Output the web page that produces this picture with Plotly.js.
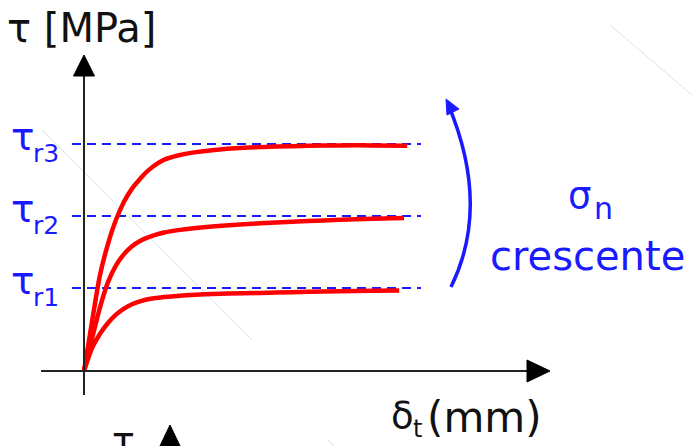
<!DOCTYPE html>
<html>
<head>
<meta charset="utf-8">
<script src="https://cdn.plot.ly/plotly-3.0.1.min.js"></script>
<style>html,body{margin:0;padding:0;background:#fff;}</style>
</head>
<body>
<div id="chart" style="width:692px;height:446px;"></div>
<script>
// Shear stress τ versus tangential displacement δt for three normal-stress levels
const deltaT = [0, 0.25, 0.5, 0.75, 1.0, 1.25, 1.5, 1.75, 2.0, 2.5, 3.0, 3.5, 4.0, 5.0, 6.0, 7.0, 8.0, 9.0, 9.9];
const tau_r1 = [0, 0.95, 1.55, 2.0, 2.35, 2.6, 2.78, 2.9, 2.99, 3.08, 3.14, 3.18, 3.21, 3.24, 3.27, 3.3, 3.32, 3.34, 3.35];
const tau_r2 = [0, 1.35, 2.65, 3.7, 4.4, 4.87, 5.2, 5.42, 5.57, 5.77, 5.88, 5.96, 6.02, 6.11, 6.19, 6.25, 6.3, 6.34, 6.37];
const tau_r3 = [0, 2.05, 4.0, 5.3, 6.3, 7.05, 7.6, 8.0, 8.35, 8.8, 9.0, 9.12, 9.2, 9.3, 9.35, 9.38, 9.4, 9.4, 9.39];
// the three curves end at slightly different displacements
const deltaEnd = [9.85, 10.0, 10.1];

// residual shear strengths (dashed reference levels) and their labels
const residualLevels = [3.46, 6.46, 9.46];
const residualSubs   = ['r1', 'r2', 'r3'];

// axis extents
const xRange = [-2.625, 19.0];
const yRange = [-3.125, 15.458];

const W = 692, H = 446;
// pixel -> data helpers for the decorative elements
const sx = W / (xRange[1] - xRange[0]);
const sy = H / (yRange[1] - yRange[0]);
const X = p => xRange[0] + p / sx;
const Y = p => yRange[1] - p / sy;

const RED = '#ff0000';
const BLUE = '#1a1aff';
const INK = '#111111';

const traces = [tau_r1, tau_r2, tau_r3].map((tau, i) => ({
  type: 'scatter', mode: 'lines',
  x: deltaT.slice(0, -1).concat([deltaEnd[i]]), y: tau,
  line: {color: RED, width: 4.5, shape: 'spline', smoothing: 0.7},
  hoverinfo: 'skip', showlegend: false
}));

// dashed residual levels
residualLevels.forEach(v => traces.unshift({
  type: 'scatter', mode: 'lines', x: [X(72), X(421)], y: [v, v],
  line: {color: BLUE, width: 2, dash: '9px,6px'},
  hoverinfo: 'skip', showlegend: false
}));

const faint = {color: 'rgba(175,205,232,0.55)', width: 1};
const shapes = [
  // faint background diagonals
  {type: 'line', xref: 'x', yref: 'y', x0: X(42), y0: Y(130), x1: X(252), y1: Y(340), line: faint, layer: 'below'},
  {type: 'line', xref: 'x', yref: 'y', x0: X(328), y0: Y(440), x1: X(336), y1: Y(448), line: faint, layer: 'below'},
  {type: 'line', xref: 'x', yref: 'y', x0: X(610), y0: Y(25), x1: X(692), y1: Y(95), line: faint, layer: 'below'},
  // horizontal axis with arrow
  {type: 'line', xref: 'x', yref: 'y', x0: X(41), y0: 0, x1: X(530), y1: 0, line: {color: '#222', width: 2}},
  {type: 'path', xref: 'x', yref: 'y',
   path: `M ${X(527)},${11/sy} L ${X(550)},0 L ${X(527)},${-11/sy} Z`,
   fillcolor: '#000', line: {color: '#000', width: 1}},
  // vertical axis with arrow
  {type: 'line', xref: 'x', yref: 'y', x0: 0, y0: Y(395), x1: 0, y1: Y(74), line: {color: '#222', width: 2}},
  {type: 'path', xref: 'x', yref: 'y',
   path: `M ${-10.5/sx},${Y(76)} L 0,${Y(55)} L ${10.5/sx},${Y(76)} Z`,
   fillcolor: '#000', line: {color: '#000', width: 1}},
  // arrow head of the next plot, cut by the frame
  {type: 'path', xref: 'x', yref: 'y',
   path: `M ${X(170)},${Y(425)} L ${X(159)},${Y(448)} L ${X(181)},${Y(448)} Z`,
   fillcolor: '#000', line: {color: '#000', width: 1}},
  // curved arrow: increasing normal stress
  {type: 'path', xref: 'x', yref: 'y',
   path: `M ${X(451)},${Y(287)} Q ${X(491)},${Y(206)} ${X(448)},${Y(104)}`,
   line: {color: BLUE, width: 3.5}},
  {type: 'path', xref: 'x', yref: 'y',
   path: `M ${X(446)},${Y(99)} L ${X(459)},${Y(109)} L ${X(447)},${Y(115)} Z`,
   fillcolor: BLUE, line: {color: BLUE, width: 1}}
];

const ann = (text, px, py, size, color, anchor) => ({
  xref: 'x', yref: 'y', x: X(px), y: Y(py), text: text, showarrow: false,
  xanchor: anchor || 'left', yanchor: 'middle',
  font: {family: 'DejaVu Sans', size: size, color: color}
});

const annotations = [
  ann('τ [MPa]', 5, 28, 40, INK),
  ann('δ', 389, 415, 37, INK),
  ann('t', 411, 429, 24, INK),
  ann('(mm)', 425, 417, 42, INK),
  ann('τ', 110, 441, 38, INK),
  ann('σ', 566, 195, 37, BLUE),
  ann('n', 592, 208, 30, BLUE),
  ann('crescente', 587, 256, 40, BLUE, 'center')
];
residualLevels.forEach((v, i) => {
  const py = (yRange[1] - v) * sy;
  annotations.push(ann('τ', 9, py - 7, 39, BLUE));
  annotations.push(ann(residualSubs[i], 31, py + 10, 25, BLUE));
});

Plotly.newPlot('chart', traces, {
  width: W, height: H,
  margin: {l: 0, r: 0, t: 0, b: 0},
  paper_bgcolor: '#ffffff', plot_bgcolor: '#ffffff',
  xaxis: {range: xRange, visible: false, fixedrange: true},
  yaxis: {range: yRange, visible: false, fixedrange: true},
  shapes: shapes, annotations: annotations, showlegend: false
}, {displayModeBar: false, staticPlot: true});
</script>
</body>
</html>
